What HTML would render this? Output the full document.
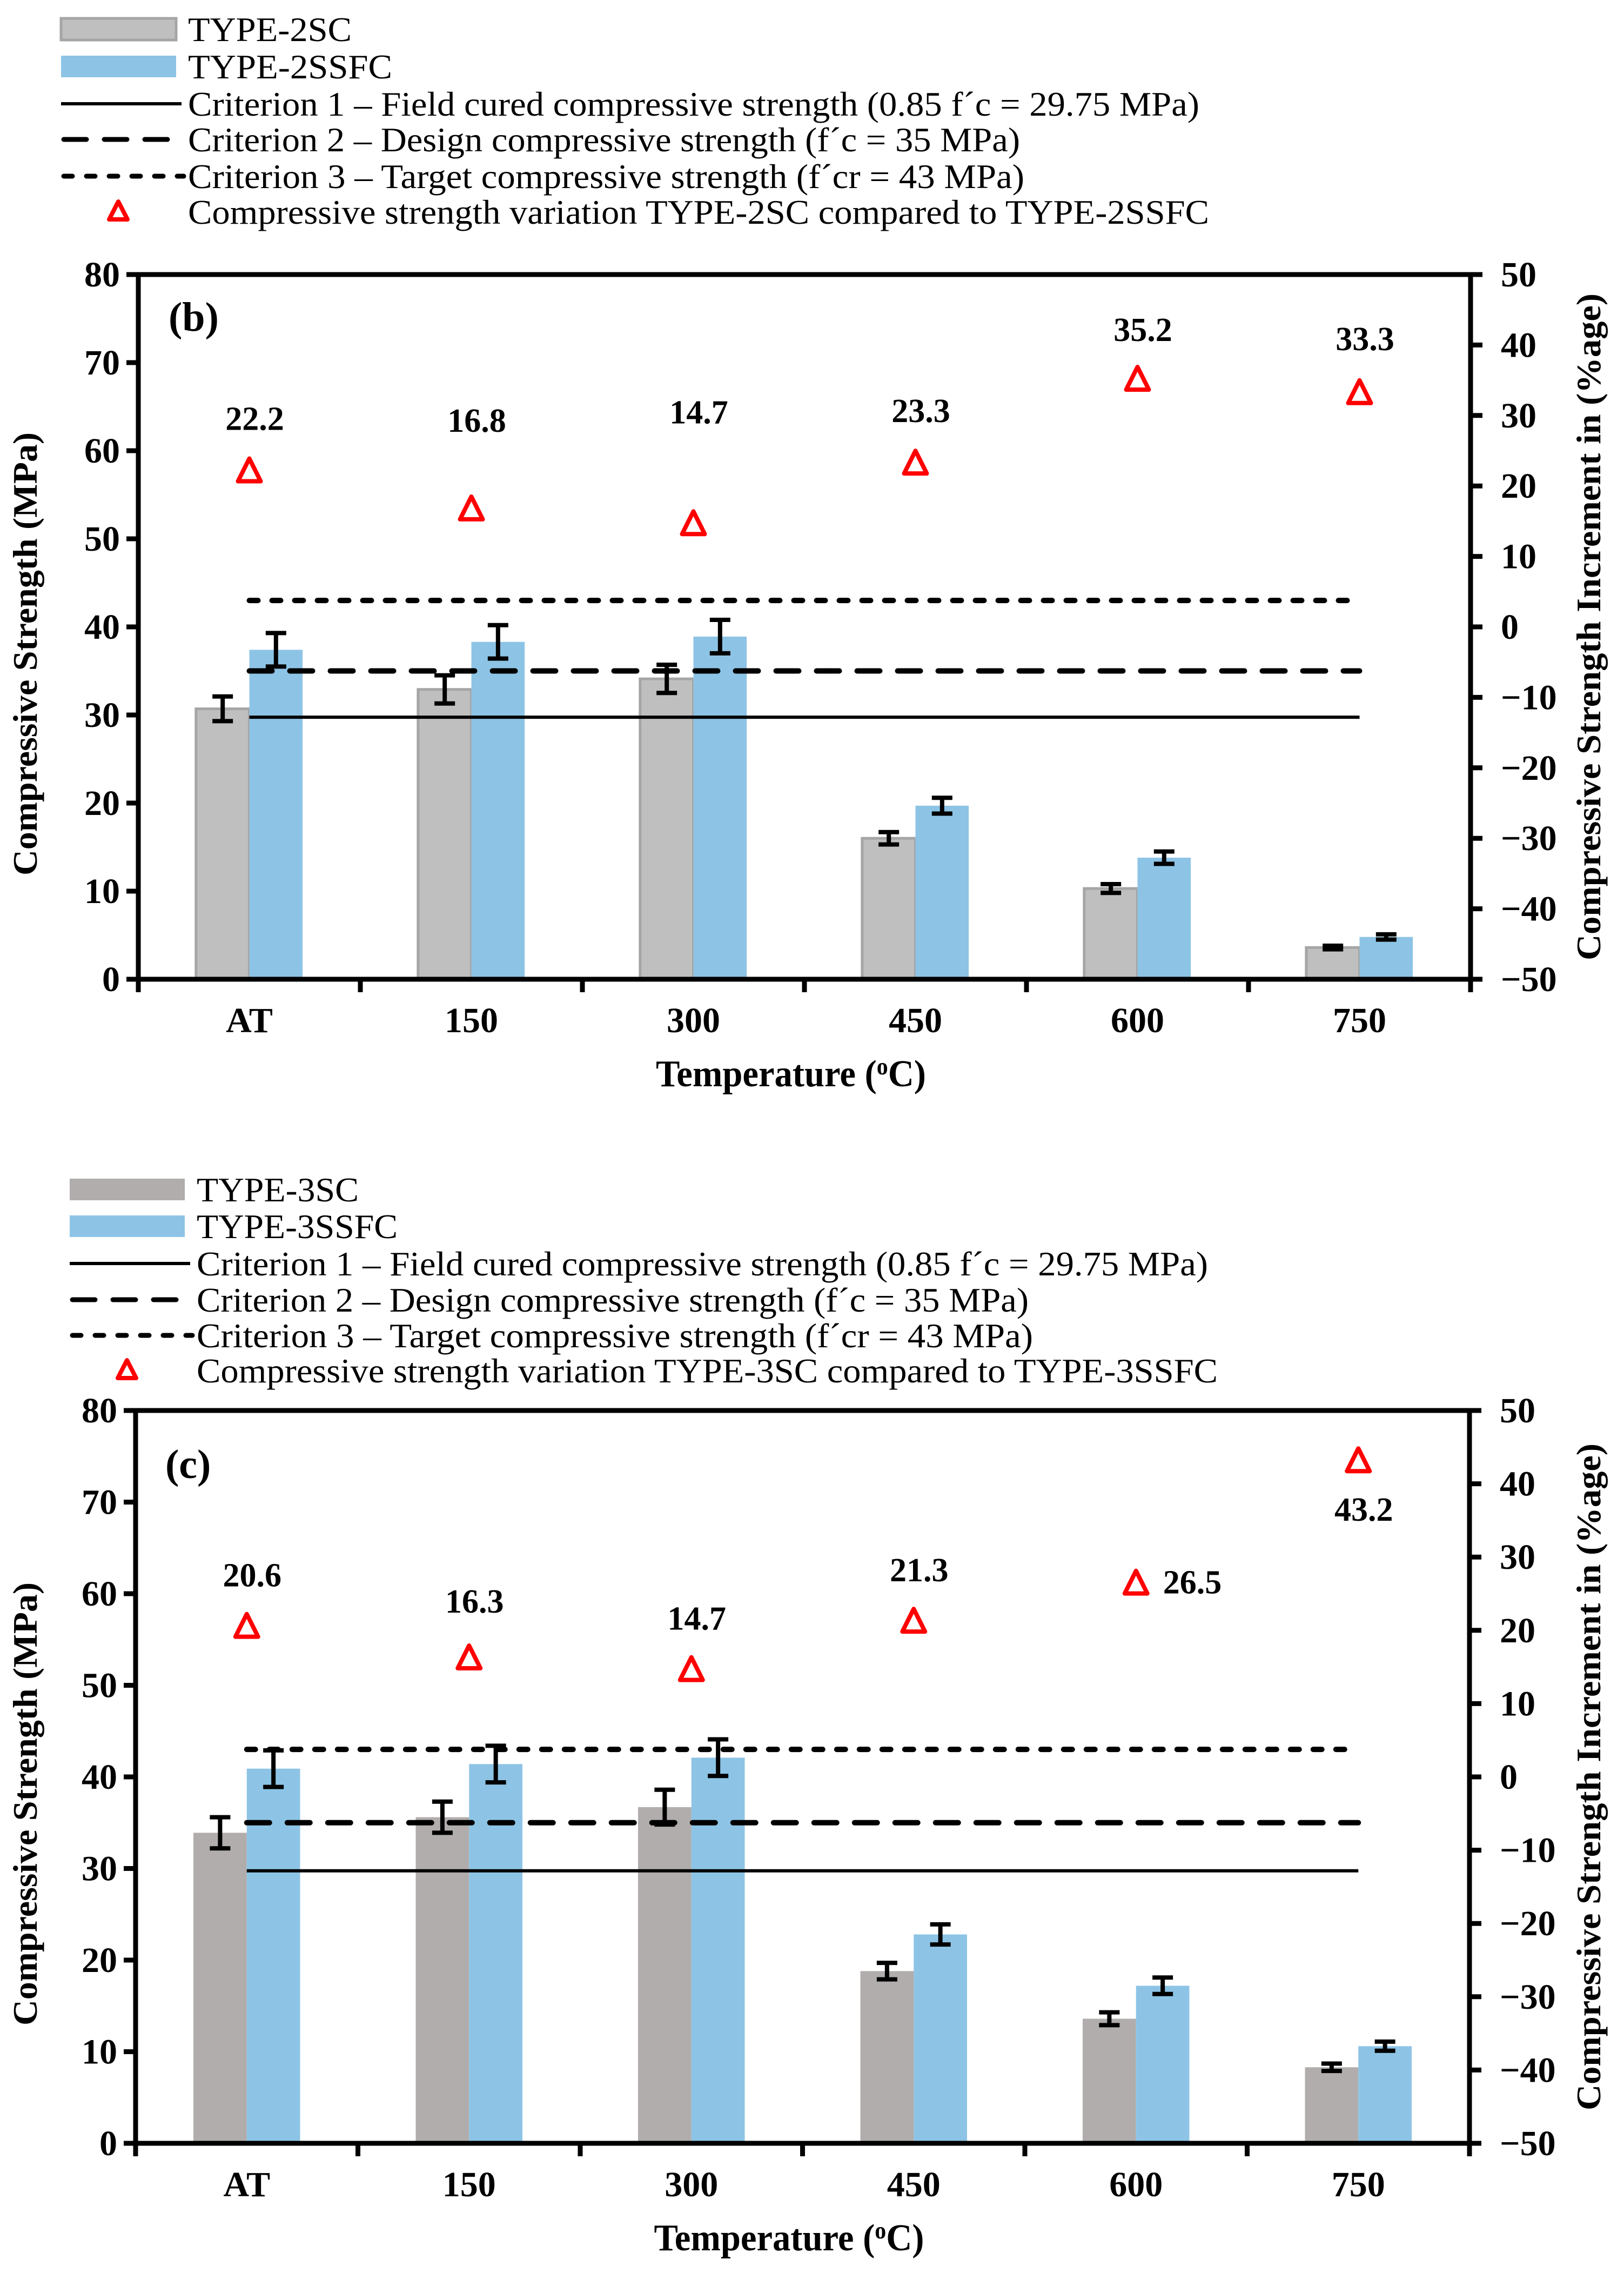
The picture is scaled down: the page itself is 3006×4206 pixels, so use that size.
<!DOCTYPE html>
<html><head><meta charset="utf-8"><style>
html,body{margin:0;padding:0;background:#fff;}
svg{display:block;}
text{font-family:"Liberation Serif",serif;}
</style></head><body>
<svg id="svg" width="3006" height="4206" viewBox="0 0 3006 4206" xmlns="http://www.w3.org/2000/svg"></svg>
<script>
const categories=["AT","150","300","450","600","750"];
const leftTicks=[0,10,20,30,40,50,60,70,80];
const rightTicks=[-50,-40,-30,-20,-10,0,10,20,30,40,50];
const rightTickLabels=["\u221250","\u221240","\u221230","\u221220","\u221210","0","10","20","30","40","50"];
const bSC=[30.7,32.9,34.1,16.0,10.3,3.6];
const bSCerr=[1.4,1.6,1.6,0.7,0.5,0.2];
const bSSFC=[37.4,38.3,38.9,19.7,13.8,4.8];
const bSSFCerr=[1.9,1.9,1.9,0.9,0.7,0.3];
const bPct=[22.2,16.8,14.7,23.3,35.2,33.3];
const cSC=[33.9,35.6,36.7,18.8,13.6,8.3];
const cSCerr=[1.7,1.7,1.9,0.9,0.7,0.4];
const cSSFC=[40.9,41.4,42.1,22.8,17.2,10.6];
const cSSFCerr=[2.0,2.0,2.0,1.1,0.9,0.5];
const cPct=[20.6,16.3,14.7,21.3,26.5,43.2];
const criteria=[29.75,35,43];

const NS="http://www.w3.org/2000/svg";
const svg=document.getElementById('svg');
function el(tag,attrs,parent,txt){const e=document.createElementNS(NS,tag);for(const k in attrs)e.setAttribute(k,attrs[k]);if(txt!==undefined)e.textContent=txt;(parent||svg).appendChild(e);return e;}

function legend(g,rows,sx,tx,labels,gray,grayStroke,widths){
  const [r1,r2,r3,r4,r5,r6]=rows;
  let s=el('rect',{x:sx,y:r1-20,width:tx-sx-22,height:40,fill:gray,stroke:grayStroke,'stroke-width':5},g);
  
  s=el('rect',{x:sx,y:r2-20,width:tx-sx-22,height:40,fill:'#8dc4e6'},g);
  
  s=el('line',{x1:sx,x2:tx-12,y1:r3,y2:r3,stroke:'#000','stroke-width':6},g);
  
  s=el('line',{x1:sx+5,x2:tx-12,y1:r4,y2:r4,stroke:'#000','stroke-width':9,'stroke-dasharray':'42 33','stroke-linecap':'round'},g);
  
  s=el('line',{x1:sx+5,x2:tx-8,y1:r5,y2:r5,stroke:'#000','stroke-width':9,'stroke-dasharray':'16 26','stroke-linecap':'round'},g);
  
  const mx=sx+106;
  s=el('path',{d:`M${mx},${r6-19} L${mx+17},${r6+14} L${mx-17},${r6+14} Z`,fill:'none',stroke:'#f00','stroke-width':8,'stroke-linejoin':'round'},g);
  
  rows.forEach((r,i)=>{
    const t=el('text',{x:tx,y:r+22,'font-size':64,textLength:widths[i],lengthAdjust:'spacingAndGlyphs'},g,labels[i]);
    
  });
}

function chart(o){
  const g=el('g',{});
  
  legend(g,o.rows,o.sx,o.tx,o.labels,o.gray,o.grayStroke,o.widths);
  const L=o.L,R=o.R,T=o.T,B=o.B;
  const yL=v=>B-(v/80)*(B-T);
  const yR=v=>B-((v+50)/100)*(B-T);
  const cw=(R-L)/categories.length;
  const cx=i=>L+cw*(i+0.5);
  const bw=cw*0.24;
  categories.forEach((c,i)=>{
    let r=el('rect',{x:cx(i)-bw,y:yL(o.sc[i]),width:bw,height:B-yL(o.sc[i]),fill:o.gray,stroke:o.grayStroke,'stroke-width':o.grayStroke==='none'?0:5},g);
    
    r=el('rect',{x:cx(i),y:yL(o.ssfc[i]),width:bw,height:B-yL(o.ssfc[i]),fill:'#8dc4e6'},g);
    
  });
  const styles=[{w:6,d:'none',cap:'butt'},{w:10,d:'42 33',cap:'round'},{w:10,d:'16 26',cap:'round'}];
  criteria.forEach((v,k)=>{
    const l=el('line',{x1:cx(0),x2:cx(5),y1:yL(v),y2:yL(v),stroke:'#000','stroke-width':styles[k].w,'stroke-dasharray':styles[k].d,'stroke-linecap':styles[k].cap},g);
    
  });
  function eb(x,v,e,name){
    const gg=el('g',{stroke:'#000','stroke-width':8},g);
    
    el('line',{x1:x,x2:x,y1:yL(v+e),y2:yL(v-e)},gg);
    el('line',{x1:x-19,x2:x+19,y1:yL(v+e),y2:yL(v+e)},gg);
    el('line',{x1:x-19,x2:x+19,y1:yL(v-e),y2:yL(v-e)},gg);
  }
  categories.forEach((c,i)=>{eb(cx(i)-bw/2,o.sc[i],o.scErr[i],'error-bar-sc-'+c);eb(cx(i)+bw/2,o.ssfc[i],o.ssfcErr[i],'error-bar-ssfc-'+c);});
  categories.forEach((c,i)=>{
    const x=cx(i),y=yR(o.pct[i]);
    const p=el('path',{d:`M${x},${y-22} L${x+21},${y+20} L${x-21},${y+20} Z`,fill:'none',stroke:'#f00','stroke-width':8,'stroke-linejoin':'round'},g);
    
    const pos=o.lblPos[i];
    let lx=x+10,ly=y-70-o.lblLift[i],anchor='middle';
    if(pos==='right'){lx=x+50;ly=y+20;anchor='start';}
    if(pos==='below'){lx=x+10;ly=y+125-o.lblLift[i];}
    const t=el('text',{x:lx,y:ly,'font-size':62,'font-weight':'bold','text-anchor':anchor},g,o.pct[i].toFixed(1));
    
  });
  const ax=el('g',{stroke:'#000','stroke-width':9,fill:'none'},g);
  
  el('rect',{x:L,y:T,width:R-L,height:B-T},ax);
  leftTicks.forEach(v=>{
    el('line',{x1:L-22,x2:L,y1:yL(v),y2:yL(v)},ax);
    const t=el('text',{x:L-34,y:yL(v)+22,'font-size':66,'font-weight':'bold','text-anchor':'end'},g,String(v));
    
  });
  rightTicks.forEach((v,k)=>{
    el('line',{x1:R,x2:R+22,y1:yR(v),y2:yR(v)},ax);
    const t=el('text',{x:R+56,y:yR(v)+22,'font-size':66,'font-weight':'bold'},g,rightTickLabels[k]);
    
  });
  for(let i=0;i<=categories.length;i++) el('line',{x1:L+cw*i,x2:L+cw*i,y1:B,y2:B+24},ax);
  categories.forEach((c,i)=>{
    const t=el('text',{x:cx(i),y:B+98,'font-size':66,'font-weight':'bold','text-anchor':'middle'},g,c);
    
  });
  let t=el('text',{x:(L+R)/2-25,y:B+198,'font-size':70,'font-weight':'bold','text-anchor':'middle',textLength:500,lengthAdjust:'spacingAndGlyphs'},g);
  
  t.appendChild(document.createTextNode('Temperature ('));
  el('tspan',{dy:-22,'font-size':44},t,'o');
  el('tspan',{dy:22},t,'C)');
  const ymid=(T+B)/2+50;
  t=el('text',{x:0,y:0,transform:`translate(68,${ymid}) rotate(-90)`,'font-size':64,'font-weight':'bold','text-anchor':'middle',textLength:820,lengthAdjust:'spacingAndGlyphs'},g,'Compressive Strength (MPa)');
  
  t=el('text',{x:0,y:0,transform:`translate(2962,${(T+B)/2}) rotate(-90)`,'font-size':64,'font-weight':'bold','text-anchor':'middle',textLength:1234,lengthAdjust:'spacingAndGlyphs'},g,'Compressive Strength Increment in (%age)');
  
  t=el('text',{x:o.tagX,y:o.tagY,'font-size':76,'font-weight':'bold'},g,o.tag);
  
}

chart({name:'chart-b',rows:[54,123,192,258,326,392],sx:113,tx:348,
  labels:['TYPE-2SC','TYPE-2SSFC','Criterion 1 \u2013 Field cured compressive strength (0.85 f\u00b4c = 29.75 MPa)','Criterion 2 \u2013 Design compressive strength (f\u00b4c = 35 MPa)','Criterion 3 \u2013 Target compressive strength (f\u00b4cr = 43 MPa)','Compressive strength variation TYPE-2SC compared to TYPE-2SSFC'],
  widths:[303,378,1872,1540,1548,1890],
  gray:'#bfbfbf',grayStroke:'#a5a5a5',L:256,R:2722,T:508,B:1812,
  sc:bSC,scErr:bSCerr,ssfc:bSSFC,ssfcErr:bSSFCerr,pct:bPct,
  lblPos:['above','above','above','above','above','above'],lblLift:[5,72,115,5,0,8],tag:'(b)',tagX:312,tagY:612});
chart({name:'chart-c',rows:[2201,2269,2338,2405,2471,2536],sx:129,tx:364,
  labels:['TYPE-3SC','TYPE-3SSFC','Criterion 1 \u2013 Field cured compressive strength (0.85 f\u00b4c = 29.75 MPa)','Criterion 2 \u2013 Design compressive strength (f\u00b4c = 35 MPa)','Criterion 3 \u2013 Target compressive strength (f\u00b4cr = 43 MPa)','Compressive strength variation TYPE-3SC compared to TYPE-3SSFC'],
  widths:[300,372,1872,1540,1548,1890],
  gray:'#b0adac',grayStroke:'none',L:251,R:2720,T:2610,B:3966,
  sc:cSC,scErr:cSCerr,ssfc:cSSFC,ssfcErr:cSSFCerr,pct:cPct,
  lblPos:['above','above','above','above','right','below'],lblLift:[3,13,3,3,5,13],tag:'(c)',tagX:306,tagY:2735});
</script>
</body></html>
